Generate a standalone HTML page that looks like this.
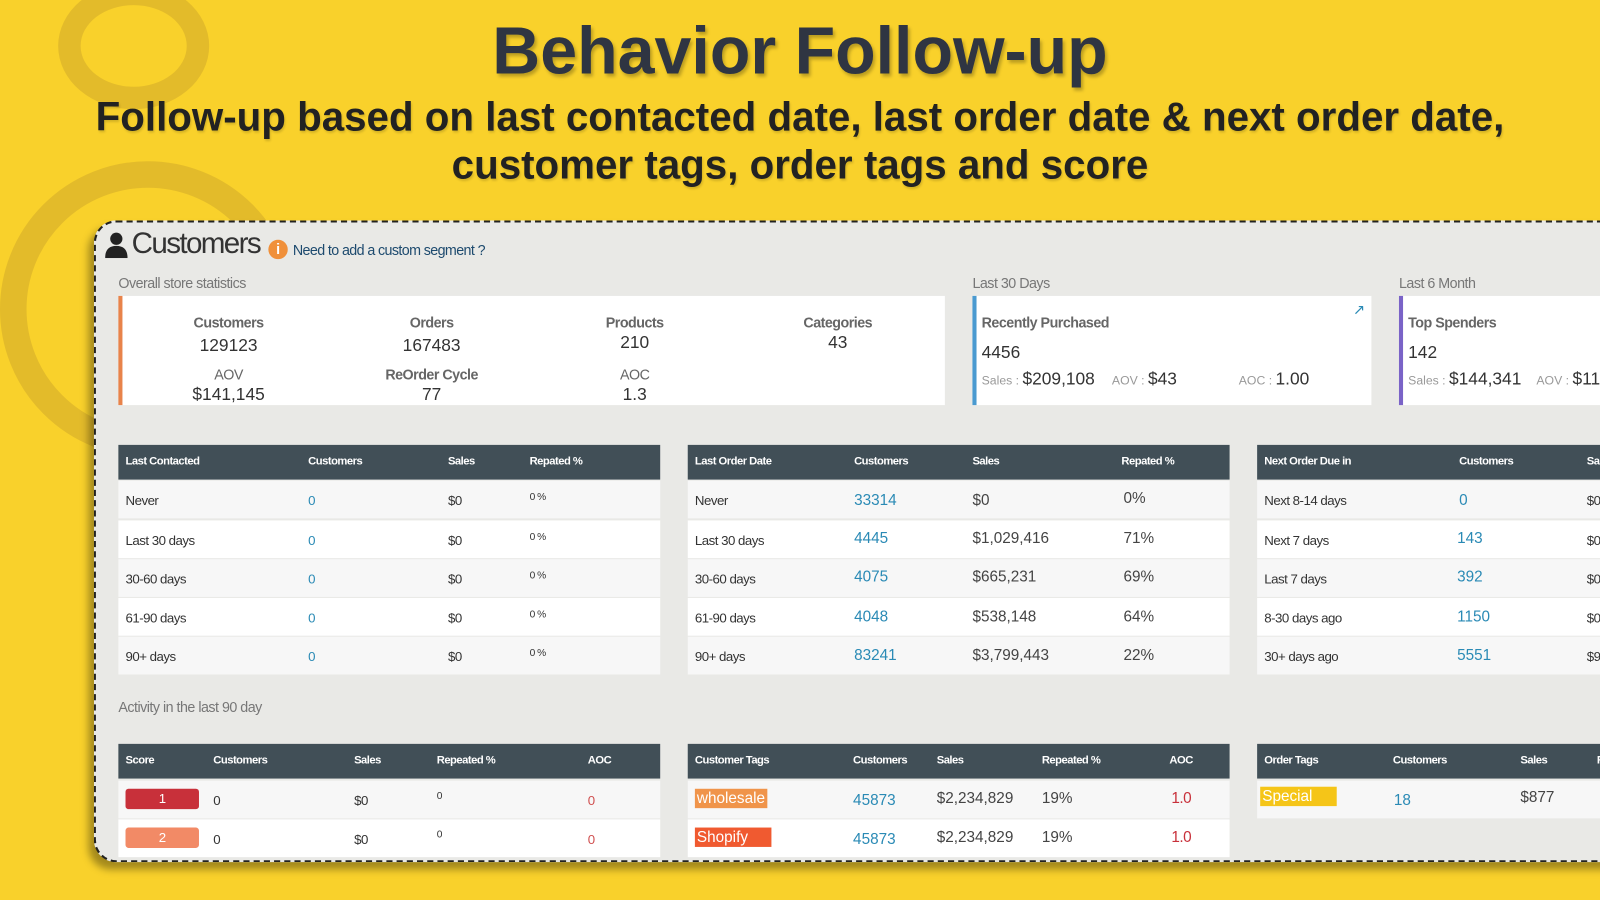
<!DOCTYPE html>
<html><head><meta charset="utf-8">
<style>
*{margin:0;padding:0;box-sizing:border-box}
html,body{width:1600px;height:900px;overflow:hidden;background:#f9d12b}
#w{position:absolute;left:0;top:0;width:1568px;height:882px;transform:scale(1.0204);transform-origin:0 0;font-family:"Liberation Sans",sans-serif}
.a{position:absolute;white-space:nowrap}
.ring1{position:absolute;left:57px;top:-17px;width:148px;height:124px;border:22px solid #e3bb2a;border-radius:50%}
.ring2{position:absolute;left:0px;top:158px;width:290px;height:290px;border:26px solid #e3bb2a;border-radius:50%}
.panel{position:absolute;left:92px;top:216px;width:1500px;height:629px;background:#e9e9e6;border:2px dashed #222;border-right:none;border-radius:22px 0 0 22px;box-shadow:-5px 7px 8px rgba(0,0,0,.35);overflow:hidden}
.g{color:#777;font-size:14px}
.box{position:absolute;background:#fff;top:290px;height:107px}
.lab{color:#666;font-size:14px;font-weight:bold;transform:translateX(-50%);letter-spacing:-.5px}
.val{color:#333;font-size:17px;transform:translateX(-50%)}
.hd{position:absolute;background:#414f57;height:34px}
.hd span{position:absolute;color:#fff;font-size:11px;font-weight:bold;top:10px;letter-spacing:-.5px}
.row{position:absolute;height:37px}
.row span{position:absolute;top:12px;font-size:13px;color:#333;letter-spacing:-.5px}
.lk{color:#2a8ab5!important;font-size:15px!important;letter-spacing:0!important}
.big{font-size:15px!important;color:#444!important;letter-spacing:0!important}
.tag{color:#fff!important;padding:1px 2px;font-size:15px!important;letter-spacing:0!important}
</style></head><body><div id="w">
<div class="ring1"></div><div class="ring2"></div>
<div class="a" style="left:0;width:1568px;text-align:center;top:12px;font-size:65px;font-weight:bold;color:#2f3542;text-shadow:2px 3px 3px rgba(0,0,0,.25)">Behavior Follow-up</div>
<div class="a" style="left:0;width:1568px;text-align:center;top:92px;font-size:39.5px;font-weight:bold;color:#222;line-height:47px;white-space:normal;text-shadow:1px 2px 2px rgba(0,0,0,.15)">Follow-up based on last contacted date, last order date &amp; next order date,<br>customer tags, order tags and score</div>
<div class="panel"></div>
<svg class="a" style="left:103px;top:227px" width="22" height="26" viewBox="0 0 22 26"><circle cx="11" cy="7" r="6" fill="#222"/><path d="M0 26 Q0 14 11 14 Q22 14 22 26Z" fill="#222"/></svg>
<div class="a" style="left:129px;top:223px;font-size:29px;color:#333;letter-spacing:-1.6px">Customers</div>
<div class="a" style="left:263px;top:235px;width:19px;height:19px;border-radius:50%;background:#f0903a;color:#fff;font-size:14px;font-weight:bold;text-align:center;line-height:19px">i</div>
<div class="a" style="left:287px;top:237px;font-size:14px;color:#1d4a6e;letter-spacing:-.6px">Need to add a custom segment ?</div>
<div class="a g" style="left:116px;top:269px;letter-spacing:-.5px">Overall store statistics</div>
<div class="a g" style="left:953px;top:269px;letter-spacing:-.5px">Last 30 Days</div>
<div class="a g" style="left:1371px;top:269px;letter-spacing:-.5px">Last 6 Month</div>
<div class="box" style="left:116px;width:810px;border-left:4px solid #e8834a"></div>
<div class="box" style="left:953px;width:391px;border-left:4px solid #4a9ad0"></div>
<div class="box" style="left:1371px;width:200px;border-left:4px solid #7a63c7"></div>
<div class="a lab" style="left:224px;top:308px">Customers</div><div class="a val" style="left:224px;top:329px">129123</div>
<div class="a lab" style="left:423px;top:308px">Orders</div><div class="a val" style="left:423px;top:329px">167483</div>
<div class="a lab" style="left:622px;top:308px">Products</div><div class="a val" style="left:622px;top:326px">210</div>
<div class="a lab" style="left:821px;top:308px">Categories</div><div class="a val" style="left:821px;top:326px">43</div>
<div class="a lab" style="left:224px;top:359px;font-weight:normal">AOV</div><div class="a val" style="left:224px;top:377px">$141,145</div>
<div class="a lab" style="left:423px;top:359px">ReOrder Cycle</div><div class="a val" style="left:423px;top:377px">77</div>
<div class="a lab" style="left:622px;top:359px;font-weight:normal">AOC</div><div class="a val" style="left:622px;top:377px">1.3</div>
<div class="a" style="left:1326px;top:295px;font-size:14px;color:#2a8ab5">&#8599;</div>
<div class="a" style="left:962px;top:308px;font-size:14px;font-weight:bold;color:#666;letter-spacing:-.5px">Recently Purchased</div>
<div class="a" style="left:962px;top:336px;font-size:17px;color:#333">4456</div>
<div class="a" style="left:962px;top:362px;font-size:17px;color:#333"><span style="font-size:12px;color:#999">Sales : </span>$209,108 <span style="font-size:12px;color:#999;margin-left:12px">AOV : </span> $43</div>
<div class="a" style="left:1214px;top:362px;font-size:17px;color:#333"><span style="font-size:12px;color:#999">AOC : </span>1.00</div>
<div class="a" style="left:1380px;top:308px;font-size:14px;font-weight:bold;color:#666;letter-spacing:-.5px">Top Spenders</div>
<div class="a" style="left:1380px;top:336px;font-size:17px;color:#333">142</div>
<div class="a" style="left:1380px;top:362px;font-size:17px;color:#333"><span style="font-size:12px;color:#999">Sales : </span>$144,341 <span style="font-size:12px;color:#999;margin-left:10px">AOV : </span>$117</div>

<div class="hd" style="left:116px;top:436px;width:531px"><span style="left:7px">Last Contacted</span><span style="left:186px">Customers</span><span style="left:323px">Sales</span><span style="left:403px">Repated %</span></div>
<div class="hd" style="left:674px;top:436px;width:531px"><span style="left:7px">Last Order Date</span><span style="left:163px">Customers</span><span style="left:279px">Sales</span><span style="left:425px">Repated %</span></div>
<div class="hd" style="left:1232px;top:436px;width:400px"><span style="left:7px">Next Order Due in</span><span style="left:198px">Customers</span><span style="left:323px">Sales</span></div>

<div class="row" style="left:116px;top:471px;width:531px;background:#f7f7f7"><span style="left:7px">Never</span><span style="left:186px;color:#2a8ab5">0</span><span style="left:323px">$0</span><span style="left:403px;font-size:10px;top:11px">0 %</span></div>
<div class="row" style="left:116px;top:510px;width:531px;background:#fff"><span style="left:7px">Last 30 days</span><span style="left:186px;color:#2a8ab5">0</span><span style="left:323px">$0</span><span style="left:403px;font-size:10px;top:11px">0 %</span></div>
<div class="row" style="left:116px;top:548px;width:531px;background:#f7f7f7"><span style="left:7px">30-60 days</span><span style="left:186px;color:#2a8ab5">0</span><span style="left:323px">$0</span><span style="left:403px;font-size:10px;top:11px">0 %</span></div>
<div class="row" style="left:116px;top:586px;width:531px;background:#fff"><span style="left:7px">61-90 days</span><span style="left:186px;color:#2a8ab5">0</span><span style="left:323px">$0</span><span style="left:403px;font-size:10px;top:11px">0 %</span></div>
<div class="row" style="left:116px;top:624px;width:531px;background:#f7f7f7"><span style="left:7px">90+ days</span><span style="left:186px;color:#2a8ab5">0</span><span style="left:323px">$0</span><span style="left:403px;font-size:10px;top:11px">0 %</span></div>

<div class="row" style="left:674px;top:471px;width:531px;background:#f7f7f7"><span style="left:7px">Never</span><span class="lk" style="left:163px;top:11px">33314</span><span class="big" style="left:279px;top:11px">$0</span><span class="big" style="left:427px;top:9px">0%</span></div>
<div class="row" style="left:674px;top:510px;width:531px;background:#fff"><span style="left:7px">Last 30 days</span><span class="lk" style="left:163px;top:9px">4445</span><span class="big" style="left:279px;top:9px">$1,029,416</span><span class="big" style="left:427px;top:9px">71%</span></div>
<div class="row" style="left:674px;top:548px;width:531px;background:#f7f7f7"><span style="left:7px">30-60 days</span><span class="lk" style="left:163px;top:9px">4075</span><span class="big" style="left:279px;top:9px">$665,231</span><span class="big" style="left:427px;top:9px">69%</span></div>
<div class="row" style="left:674px;top:586px;width:531px;background:#fff"><span style="left:7px">61-90 days</span><span class="lk" style="left:163px;top:10px">4048</span><span class="big" style="left:279px;top:10px">$538,148</span><span class="big" style="left:427px;top:10px">64%</span></div>
<div class="row" style="left:674px;top:624px;width:531px;background:#f7f7f7"><span style="left:7px">90+ days</span><span class="lk" style="left:163px;top:10px">83241</span><span class="big" style="left:279px;top:10px">$3,799,443</span><span class="big" style="left:427px;top:10px">22%</span></div>

<div class="row" style="left:1232px;top:471px;width:400px;background:#f7f7f7"><span style="left:7px">Next 8-14 days</span><span class="lk" style="left:198px;top:11px">0</span><span style="left:323px">$0</span></div>
<div class="row" style="left:1232px;top:510px;width:400px;background:#fff"><span style="left:7px">Next 7 days</span><span class="lk" style="left:196px;top:9px">143</span><span style="left:323px">$0</span></div>
<div class="row" style="left:1232px;top:548px;width:400px;background:#f7f7f7"><span style="left:7px">Last 7 days</span><span class="lk" style="left:196px;top:9px">392</span><span style="left:323px">$0</span></div>
<div class="row" style="left:1232px;top:586px;width:400px;background:#fff"><span style="left:7px">8-30 days ago</span><span class="lk" style="left:196px;top:10px">1150</span><span style="left:323px">$0</span></div>
<div class="row" style="left:1232px;top:624px;width:400px;background:#f7f7f7"><span style="left:7px">30+ days ago</span><span class="lk" style="left:196px;top:10px">5551</span><span style="left:323px">$9</span></div>

<div class="a g" style="left:116px;top:685px;letter-spacing:-.5px">Activity in the last 90 day</div>

<div class="hd" style="left:116px;top:729px;width:531px"><span style="left:7px">Score</span><span style="left:93px">Customers</span><span style="left:231px">Sales</span><span style="left:312px">Repeated %</span><span style="left:460px">AOC</span></div>
<div class="hd" style="left:674px;top:729px;width:531px"><span style="left:7px">Customer Tags</span><span style="left:162px">Customers</span><span style="left:244px">Sales</span><span style="left:347px">Repeated %</span><span style="left:472px">AOC</span></div>
<div class="hd" style="left:1232px;top:729px;width:400px"><span style="left:7px">Order Tags</span><span style="left:133px">Customers</span><span style="left:258px">Sales</span><span style="left:333px">R</span></div>

<div class="row" style="left:116px;top:765px;width:531px;background:#f7f7f7"><span style="left:7px;top:8px;width:72px;height:20px;background:#c8303a;border-radius:3px;color:#fff;text-align:center;line-height:20px">1</span><span style="left:93px">0</span><span style="left:231px">$0</span><span style="left:312px;font-size:10px;top:10px">0</span><span style="left:460px;color:#d05050">0</span></div>
<div class="row" style="left:116px;top:803px;width:531px;background:#fff"><span style="left:7px;top:8px;width:72px;height:20px;background:#f28a66;border-radius:3px;color:#fff;text-align:center;line-height:20px">2</span><span style="left:93px">0</span><span style="left:231px">$0</span><span style="left:312px;font-size:10px;top:10px">0</span><span style="left:460px;color:#d05050">0</span></div>

<div class="row" style="left:674px;top:765px;width:531px;background:#f7f7f7"><span class="tag" style="left:7px;top:8px;background:#f0944a">wholesale</span><span class="lk" style="left:162px;top:11px">45873</span><span class="big" style="left:244px;top:9px">$2,234,829</span><span class="big" style="left:347px;top:9px">19%</span><span style="left:474px;top:9px;font-size:15px;color:#c8303a">1.0</span></div>
<div class="row" style="left:674px;top:803px;width:531px;background:#fff"><span class="tag" style="left:7px;top:8px;background:#f05a30;width:75px">Shopify</span><span class="lk" style="left:162px;top:11px">45873</span><span class="big" style="left:244px;top:9px">$2,234,829</span><span class="big" style="left:347px;top:9px">19%</span><span style="left:474px;top:9px;font-size:15px;color:#c8303a">1.0</span></div>

<div class="row" style="left:1232px;top:765px;width:400px;background:#f7f7f7"><span class="tag" style="left:3px;top:6px;background:#f5c518;width:75px">Special</span><span class="lk" style="left:134px;top:11px">18</span><span class="big" style="left:258px;top:8px">$877</span></div>
</div></body></html>
